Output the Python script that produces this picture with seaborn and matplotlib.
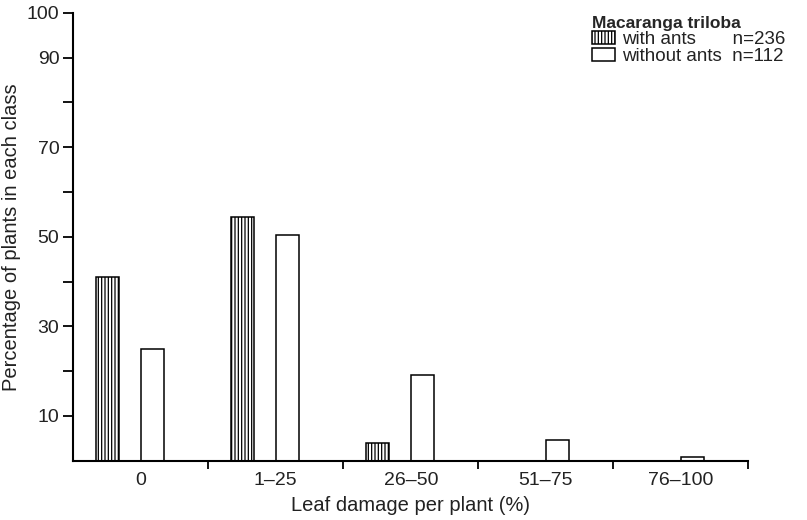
import matplotlib
matplotlib.use("Agg")
import matplotlib.pyplot as plt
import seaborn as sns
import pandas as pd

# ---- data ----
categories = ["0", "1\u201325", "26\u201350", "51\u201375", "76\u2013100"]
with_ants = [41.0, 54.4, 4.0, 0.0, 0.0]
without_ants = [25.0, 50.4, 19.2, 4.5, 0.8]
series_names = ["with ants", "without ants"]
n_values = [236, 112]
species = "Macaranga triloba"
y_ticks_major = [10, 30, 50, 70, 90, 100]
y_ticks_minor = [20, 40, 60, 80]

df = pd.DataFrame({
    "class": categories * 2,
    "group": [series_names[0]] * len(categories) + [series_names[1]] * len(categories),
    "pct": with_ants + without_ants,
})

sns.set_theme(style="ticks")
plt.rcParams["font.family"] = ["Liberation Sans", "DejaVu Sans"]
plt.rcParams["hatch.linewidth"] = 0.9

fig = plt.figure(figsize=(8.07, 5.20), dpi=100)
ax = fig.add_axes([73.3 / 807, 1 - 460.5 / 520, (748.3 - 73.3) / 807, (460.5 - 13) / 520])

sns.barplot(data=df, x="class", y="pct", hue="group", order=categories,
            hue_order=series_names,
            palette={series_names[0]: "white", series_names[1]: "white"},
            edgecolor="black", linewidth=1.1, width=0.667, gap=0.5,
            errorbar=None, legend=False, ax=ax)

for p in ax.containers[0]:
    p.set_hatch("|||||")

shift = 0.08
n = len(categories)
ax.set_xlim(-0.5 + shift, n - 0.5 + shift)
ax.set_ylim(0, 100)

ax.set_xticks([k + 0.5 + shift for k in range(n)], labels=[""] * n)
ax.set_xticks([k + shift for k in range(n)], labels=categories, minor=True)
ax.tick_params(axis="x", which="major", length=6, width=1.3, direction="out", color="black")
ax.tick_params(axis="x", which="minor", length=0, pad=8, labelsize=14, labelcolor="#222222")

ax.set_yticks(y_ticks_major, labels=[str(v) for v in y_ticks_major])
ax.set_yticks(y_ticks_minor, minor=True)
ax.tick_params(axis="y", which="both", length=7, width=1.3, direction="out", color="black",
               labelsize=14, labelcolor="#222222", pad=3)

for s in ["top", "right"]:
    ax.spines[s].set_visible(False)
for s in ["left", "bottom"]:
    ax.spines[s].set_color("black")
    ax.spines[s].set_linewidth(1.5)

ax.set_xlabel("Leaf damage per plant (%)", fontsize=14.5, color="#222222", labelpad=5)
ax.set_ylabel("Percentage of plants in each class", fontsize=14.5, color="#222222", labelpad=4)

handles = [ax.containers[0][0], ax.containers[1][0]]
labels = [f"{series_names[0]}       n={n_values[0]}",
          f"{series_names[1]}  n={n_values[1]}"]
leg = ax.legend(handles, labels, title=species, loc="upper left",
                bbox_to_anchor=(0.755, 1.015), frameon=False, fontsize=13.5,
                title_fontproperties={"weight": "bold", "size": 12.5},
                handlelength=1.2, handleheight=0.7, handletextpad=0.4,
                labelspacing=0.0, borderpad=0.0, alignment="left")
for t in leg.get_texts():
    t.set_color("#222222")

fig.savefig("out.png", dpi=100, facecolor="white")
